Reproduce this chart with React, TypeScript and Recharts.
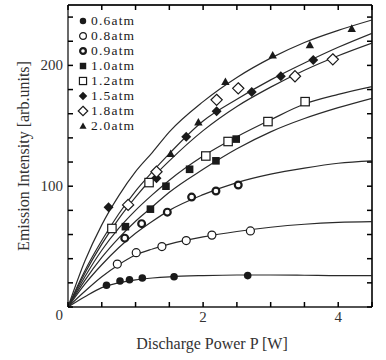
import React from "react";
import { ComposedChart, Line, Scatter, XAxis, YAxis, Legend, ReferenceLine } from "recharts";

// fitted curves at these powers
const curveX = [0, 0.25, 0.5, 0.75, 1, 1.25, 1.5, 2, 2.5, 3, 3.5, 4, 4.5];
const fit06 = [0, 8.5, 16, 20, 22.5, 24, 25, 26, 26.5, 26.5, 26.3, 26, 26];
const fit08 = [0, 13, 25, 35, 43, 48, 52, 58, 62.5, 66, 68.5, 70, 70.6];
const fit09 = [0, 19, 35, 49, 61, 71, 80, 93, 103, 110, 115, 119, 121];
const fit10 = [0, 22, 41, 57, 71, 83, 95, 114, 131, 145, 156, 165, 172.8];
const fit12 = [0, 25, 47, 65, 80, 93, 105, 125, 141, 155, 168, 176, 182.4];
const fit15 = [0, 28, 52, 73, 91, 107, 121, 146, 166, 182, 196, 208, 218.5];
const fit18 = [0, 30, 55, 77, 96, 112, 127, 154, 172, 188, 202, 215, 226.6];
const fit20 = [0, 38, 68, 92, 112, 128, 145, 170, 190, 206, 219, 229, 237.6];

// measured points
const p06X = [0.57, 0.77, 0.91, 1.1, 1.57, 2.66];
const p06Y = [18, 21.5, 22.5, 24, 25, 26];
const p08X = [0.73, 1.01, 1.39, 1.75, 2.13, 2.7];
const p08Y = [35.5, 45, 50, 55, 59.5, 63];
const p09X = [0.84, 1.09, 1.47, 1.83, 2.19, 2.52];
const p09Y = [57, 69, 78.5, 91, 96, 101];
const p10X = [0.85, 1.22, 1.45, 1.8, 2.19, 2.49];
const p10Y = [66.5, 81, 100, 114, 121, 139];
const p12X = [0.65, 1.2, 2.04, 2.37, 2.96, 3.51];
const p12Y = [65, 103, 125, 137, 153.5, 170];
const p15X = [0.6, 1.31, 1.75, 2.2, 2.72, 3.15, 3.63];
const p15Y = [82.5, 106.5, 141, 162, 178, 191, 204.5];
const p18X = [0.89, 1.31, 2.2, 2.52, 3.36, 3.92];
const p18Y = [84.5, 112, 171.5, 181, 191, 205];
const p20X = [1.52, 1.93, 2.33, 3.03, 3.58, 4.2];
const p20Y = [127, 153, 186.5, 208.5, 217, 230.5];

const xTicks = [0, 0.5, 1, 1.5, 2, 2.5, 3, 3.5, 4, 4.5];
const xLabels = [0, 2, 4];
const yTicks = [0, 20, 40, 60, 80, 100, 120, 140, 160, 180, 200, 220, 240];
const yLabels = [0, 100, 200];

const curveData = curveX.map((x, i) => ({
  x,
  c06: fit06[i],
  c08: fit08[i],
  c09: fit09[i],
  c10: fit10[i],
  c12: fit12[i],
  c15: fit15[i],
  c18: fit18[i],
  c20: fit20[i],
}));

const pts = (xs: number[], ys: number[]) => xs.map((x, i) => ({ x, y: ys[i] }));

const series = [
  { name: "0.6atm", kind: "dot", key: "c06", data: pts(p06X, p06Y) },
  { name: "0.8atm", kind: "ring", key: "c08", data: pts(p08X, p08Y) },
  { name: "0.9atm", kind: "thick", key: "c09", data: pts(p09X, p09Y) },
  { name: "1.0atm", kind: "square", key: "c10", data: pts(p10X, p10Y) },
  { name: "1.2atm", kind: "box", key: "c12", data: pts(p12X, p12Y) },
  { name: "1.5atm", kind: "diamond", key: "c15", data: pts(p15X, p15Y) },
  { name: "1.8atm", kind: "odiamond", key: "c18", data: pts(p18X, p18Y) },
  { name: "2.0atm", kind: "tri", key: "c20", data: pts(p20X, p20Y) },
];

const INK = "#1a1a1a";
const FONT = "'Liberation Serif', 'DejaVu Serif', serif";
const TL = 5; // inward tick length

function Marker({ kind, cx, cy, k = 1 }: { kind: string; cx: number; cy: number; k?: number }) {
  switch (kind) {
    case "dot":
      return <circle cx={cx} cy={cy} r={3.8 * k} fill={INK} />;
    case "ring":
      return <circle cx={cx} cy={cy} r={4 * k} fill="#fff" stroke={INK} strokeWidth={1.2} />;
    case "thick":
      return <circle cx={cx} cy={cy} r={3.4 * k} fill="#fff" stroke={INK} strokeWidth={2.2} />;
    case "square": {
      const h = 3.8 * k;
      return <rect x={cx - h} y={cy - h} width={2 * h} height={2 * h} fill={INK} />;
    }
    case "box": {
      const h = 4.2 * k;
      return <rect x={cx - h} y={cy - h} width={2 * h} height={2 * h} fill="#fff" stroke={INK} strokeWidth={1.2} />;
    }
    case "diamond": {
      const h = 5 * k;
      return <polygon points={`${cx},${cy - h} ${cx + h},${cy} ${cx},${cy + h} ${cx - h},${cy}`} fill={INK} />;
    }
    case "odiamond": {
      const h = 5.6 * k;
      return (
        <polygon
          points={`${cx},${cy - h} ${cx + h},${cy} ${cx},${cy + h} ${cx - h},${cy}`}
          fill="#fff"
          stroke={INK}
          strokeWidth={1.2}
        />
      );
    }
    default: {
      const h = 4.2 * k;
      return <polygon points={`${cx},${cy - h} ${cx + h},${cy + h * 0.8} ${cx - h},${cy + h * 0.8}`} fill={INK} />;
    }
  }
}

function LegendBox() {
  return (
    <div style={{ fontFamily: FONT, fontSize: 13.5, color: INK, letterSpacing: 1.2 }}>
      {series.map((s) => (
        <div key={s.name} style={{ display: "flex", alignItems: "center", height: 15, lineHeight: "15px" }}>
          <svg width={12} height={12} style={{ marginRight: 2 }}>
            <Marker kind={s.kind} cx={6} cy={6} k={0.85} />
          </svg>
          <span>{s.name}</span>
        </div>
      ))}
    </div>
  );
}

// tick marks point into the plot, so they are drawn here instead of by tickLine
function XTick(props: any) {
  const { x, y, payload } = props;
  const v = payload.value;
  return (
    <g>
      <path d={`M${x},${y}V${y - TL}`} stroke="#000" strokeWidth={1.5} fill="none" />
      {xLabels.includes(v) && v !== 0 && (
        <text x={x} y={y + 15} textAnchor="middle" fontFamily={FONT} fontSize={15} fill="#333" stroke="none">
          {v}
        </text>
      )}
    </g>
  );
}

function TopTick(props: any) {
  const { x, y } = props;
  return <path d={`M${x},${y}V${y + TL}`} stroke="#000" strokeWidth={1.5} fill="none" />;
}

function YTick(props: any) {
  const { x, y, payload } = props;
  const v = payload.value;
  return (
    <g>
      <path d={`M${x},${y}H${x + TL}`} stroke="#000" strokeWidth={1.5} fill="none" />
      {yLabels.includes(v) && (
        <text
          x={x - 5}
          y={y + (v === 0 ? 13 : 5)}
          textAnchor="end"
          fontFamily={FONT}
          fontSize={15}
          fill="#333"
          stroke="none"
        >
          {v}
        </text>
      )}
    </g>
  );
}

function RightTick(props: any) {
  const { x, y } = props;
  return <path d={`M${x},${y}H${x - TL}`} stroke="#000" strokeWidth={1.5} fill="none" />;
}

const axisLine = { stroke: INK, strokeWidth: 1.3 };

export default function App() {
  return (
    <div style={{ position: "absolute", left: 0, top: 0, width: 386, height: 360, background: "#fff" }}>
      <ComposedChart width={386} height={360} data={curveData} margin={{ top: 0, right: 0, bottom: 0, left: 0 }}>
        <XAxis
          xAxisId="b"
          dataKey="x"
          type="number"
          domain={[0, 4.5]}
          ticks={xTicks}
          allowDataOverflow
          height={53}
          axisLine={axisLine}
          tickLine={false}
          tickSize={0}
          tickMargin={0}
          tick={<XTick />}
          label={{
            content: ({ viewBox }: any) => (
              <text
                x={viewBox.x + viewBox.width / 2 - 8}
                y={viewBox.y + 36}
                textAnchor="middle"
                dominantBaseline="central"
                fontFamily={FONT}
                fontSize={16}
                fill="#333"
              >
                Discharge Power P [W]
              </text>
            ),
          }}
        />
        <XAxis
          xAxisId="t"
          orientation="top"
          dataKey="x"
          type="number"
          domain={[0, 4.5]}
          ticks={xTicks}
          allowDataOverflow
          height={5}
          axisLine={axisLine}
          tickLine={false}
          tickSize={0}
          tickMargin={0}
          tick={<TopTick />}
        />
        <YAxis
          yAxisId="l"
          type="number"
          domain={[0, 250]}
          ticks={yTicks}
          allowDataOverflow
          width={68}
          axisLine={axisLine}
          tickLine={false}
          tickSize={0}
          tickMargin={0}
          tick={<YTick />}
          label={{
            content: ({ viewBox }: any) => {
              const cx = viewBox.x + 23;
              const cy = viewBox.y + viewBox.height / 2;
              return (
                <text
                  x={cx}
                  y={cy}
                  transform={`rotate(-90 ${cx} ${cy})`}
                  textAnchor="middle"
                  dominantBaseline="central"
                  fontFamily={FONT}
                  fontSize={16}
                  fill="#333"
                >
                  Emission Intensity [arb.units]
                </text>
              );
            },
          }}
        />
        <YAxis
          yAxisId="r"
          orientation="right"
          type="number"
          domain={[0, 250]}
          ticks={yTicks}
          allowDataOverflow
          width={14}
          axisLine={axisLine}
          tickLine={false}
          tickSize={0}
          tickMargin={0}
          tick={<RightTick />}
        />
        <Legend
          layout="vertical"
          align="center"
          verticalAlign="middle"
          content={<LegendBox />}
          wrapperStyle={{ left: 77, top: 13, width: 90, height: 120 }}
        />
        {/* frame: right and top edges */}
        <ReferenceLine xAxisId="b" yAxisId="l" x={4.5} stroke={INK} strokeWidth={1.3} ifOverflow="visible" />
        <ReferenceLine xAxisId="b" yAxisId="l" y={250} stroke={INK} strokeWidth={1.3} ifOverflow="visible" />
        {/* invisible series so the top and right frame axes are active */}
        <Line
          xAxisId="t"
          yAxisId="r"
          dataKey="c20"
          stroke="none"
          dot={false}
          activeDot={false}
          legendType="none"
          isAnimationActive={false}
        />
        {series.map((s) => (
          <Line
            key={s.key}
            xAxisId="b"
            yAxisId="l"
            dataKey={s.key}
            type="monotone"
            stroke="#2a2a2a"
            strokeWidth={1.2}
            dot={false}
            activeDot={false}
            legendType="none"
            isAnimationActive={false}
          />
        ))}
        {series.map((s) => (
          <Scatter
            key={s.name}
            name={s.name}
            xAxisId="b"
            yAxisId="l"
            data={s.data}
            dataKey="y"
            isAnimationActive={false}
            shape={(p: any) => <Marker kind={s.kind} cx={p.cx} cy={p.cy} />}
          />
        ))}
      </ComposedChart>
    </div>
  );
}
